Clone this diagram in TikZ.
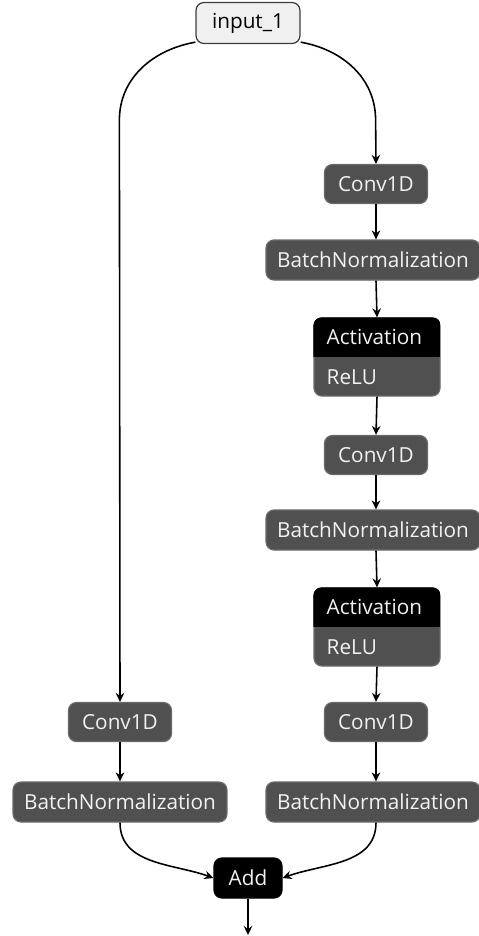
\documentclass[tikz,border=0pt]{standalone}
\usepackage{fontspec}
\setsansfont{Open Sans}
\usetikzlibrary{positioning, arrows.meta, calc}
\definecolor{cLayer}     {HTML}{505050}
\definecolor{cLayerEdge} {HTML}{6A6A6A}
\definecolor{cInput}     {HTML}{F0F0F0}
\definecolor{cInputEdge} {HTML}{3C3C3C}
\definecolor{cLabel}     {HTML}{F2F2F2}
\tikzset{
  layer/.style={draw=cLayerEdge, fill=cLayer, text=cLabel, rounded corners=1.6mm,
    line width=0.7pt, minimum height=7.8mm, inner xsep=2.2mm,
    font=\sffamily\fontsize{11.8}{14}\selectfont},
  conv/.style={layer, minimum width=20.6mm},
  bnorm/.style={layer, minimum width=41.6mm, minimum height=8mm},
  inbox/.style={layer, fill=cInput, draw=cInputEdge, text=black, minimum width=20.8mm, minimum height=8.2mm},
  addbox/.style={layer, fill=black, draw=black, minimum width=13.6mm, minimum height=8mm},
  actbox/.style={draw=cLayerEdge, fill=cLayer, rounded corners=1.6mm, line width=0.7pt,
    minimum width=25.2mm, minimum height=15.6mm},
  acttext/.style={anchor=west, text=cLabel, inner sep=0pt, font=\sffamily\fontsize{11.8}{14}\selectfont},
  edge/.style={-{Stealth[length=1.8mm, width=1.7mm]}, line width=0.9pt, black},
}
\begin{document}
\begin{tikzpicture}[x=0.2mm, y=0.2mm]
  \useasboundingbox (0,0) rectangle (478,-936);
  % input
  \node[inbox] (input) at (248,-23) {input\_1};
  % right branch
  \node[conv]  (c1r)  at (376,-184) {Conv1D};
  \node[bnorm] (bn1r) at (373,-260) {BatchNormalization};
  \node[actbox] (act1) at (377,-357) {};
  \node[conv]  (c2r)  at (376,-455) {Conv1D};
  \node[bnorm] (bn2r) at (373,-530) {BatchNormalization};
  \node[actbox] (act2) at (377,-627) {};
  \node[conv]  (c3r)  at (376,-722) {Conv1D};
  \node[bnorm] (bn3r) at (373,-802) {BatchNormalization};
  % left branch
  \node[conv]  (cl)   at (120,-722) {Conv1D};
  \node[bnorm] (bnl)  at (120,-802) {BatchNormalization};
  % merge
  \node[addbox] (add) at (248,-878) {Add};
  \coordinate (outp) at (248,-935);

  % activation boxes: black head, grey body
  \foreach \a/\kind in {act1/ReLU, act2/ReLU} {
    \begin{scope}
      \clip[rounded corners=1.6mm] (\a.north west) rectangle (\a.south east);
      \fill[black] (\a.north west) rectangle (\a.east);
    \end{scope}
    \node[acttext] at ($(\a.north west)!0.5!(\a.west)+(2.6mm,0)$) {Activation};
    \node[acttext] at ($(\a.south west)!0.5!(\a.west)+(2.6mm,0)$) {\kind};
  }

  % connectors
  \draw[edge] (input.200) to[out=190, in=90] ++(-76,-78) -- (cl.north);
  \draw[edge] (input.-20) to[out=-10, in=90] ++(75,-78) -- (c1r.north);
  \draw[edge] (c1r.south) -- (c1r.south |- bn1r.north);
  \draw[edge] (c1r.south |- bn1r.south) -- (act1.north);
  \draw[edge] (act1.south) -- (c2r.north);
  \draw[edge] (c2r.south) -- (c2r.south |- bn2r.north);
  \draw[edge] (c2r.south |- bn2r.south) -- (act2.north);
  \draw[edge] (act2.south) -- (c3r.north);
  \draw[edge] (c3r.south) -- (c3r.south |- bn3r.north);
  \draw[edge] (cl.south) -- (bnl.north);
  \draw[edge] (bnl.south) to[out=-90, in=160] (add.west);
  \draw[edge] (c3r.south |- bn3r.south) to[out=-90, in=20] (add.east);
  \draw[edge] (add.south) -- (outp);
\end{tikzpicture}
\end{document}
